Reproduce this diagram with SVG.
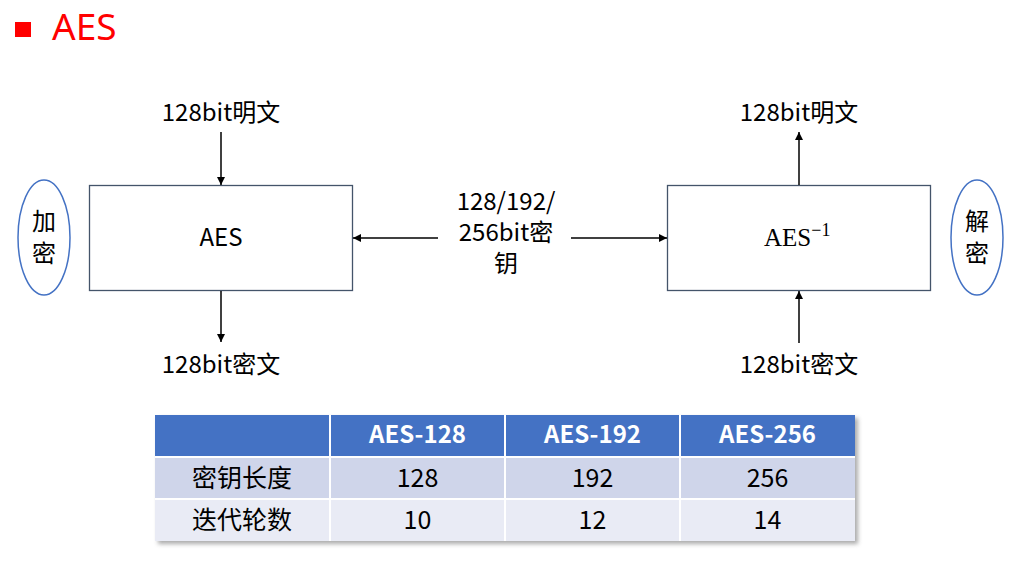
<svg xmlns="http://www.w3.org/2000/svg" width="1014" height="565" viewBox="0 0 1014 565">
<style>
.t{font-family:"Noto Sans CJK SC","Microsoft YaHei",sans-serif;font-size:24px;fill:#000;text-anchor:middle}
.tb{font-family:"Noto Sans CJK SC","Microsoft YaHei",sans-serif;font-size:25px;fill:#000;text-anchor:middle}
.box{fill:#fff;stroke:#44546A;stroke-width:1.3}
.ell{fill:#fff;stroke:#4472C4;stroke-width:1.5}
.ln{stroke:#000;stroke-width:1.5;fill:none}
.hd{font-family:"Noto Sans CJK SC","Microsoft YaHei",sans-serif;font-size:24px;font-weight:bold;fill:#fff;text-anchor:middle}
</style>
<defs>
<marker id="ah" viewBox="0 0 10 10" refX="10" refY="5" markerWidth="8" markerHeight="8" markerUnits="userSpaceOnUse" orient="auto">
<path d="M0,0 L10,5 L0,10 z" fill="#000"/>
</marker>
<filter id="sh" x="-5%" y="-20%" width="110%" height="140%">
<feGaussianBlur stdDeviation="2"/>
</filter>
</defs>
<rect width="1014" height="565" fill="#fff"/>
<g id="title">
<rect x="15" y="22" width="16" height="15" fill="#FF0000"/>
<text x="52" y="40" style="font-family:'Noto Sans',sans-serif;font-size:37px;fill:#FF0000">AES</text>
</g>
<g id="enc-label">
<ellipse class="ell" cx="44" cy="237.5" rx="26" ry="57.5"/>
<text class="t" x="44" y="230">加</text>
<text class="t" x="44" y="262">密</text>
</g>
<g id="dec-label">
<ellipse class="ell" cx="977" cy="237.5" rx="26" ry="57.5"/>
<text class="t" x="977" y="230">解</text>
<text class="t" x="977" y="262">密</text>
</g>
<g id="aes">
<rect class="box" x="89.5" y="185.5" width="263" height="105"/>
<text class="t" x="221" y="246">AES</text>
</g>
<g id="aes-inv">
<rect class="box" x="667.5" y="185.5" width="263" height="105"/>
<text x="764" y="246" style="font-family:'Liberation Serif',serif;font-size:25px;fill:#000">AES<tspan dy="-10" font-size="18">−1</tspan></text>
</g>
<g id="enc-in"><text class="t" x="221" y="121">128bit明文</text></g>
<g id="enc-out"><text class="t" x="221" y="373">128bit密文</text></g>
<g id="dec-out"><text class="t" x="799" y="121">128bit明文</text></g>
<g id="dec-in"><text class="t" x="799" y="373">128bit密文</text></g>
<g id="key">
<text class="t"><tspan x="506" y="210">128/192/</tspan><tspan x="506" y="241">256bit密</tspan><tspan x="506" y="272">钥</tspan></text>
</g>
<g id="connectors">
<line class="ln" x1="221" y1="132" x2="221" y2="185" marker-end="url(#ah)"/>
<line class="ln" x1="221" y1="291" x2="221" y2="342" marker-end="url(#ah)"/>
<line class="ln" x1="799" y1="185" x2="799" y2="132" marker-end="url(#ah)"/>
<line class="ln" x1="799" y1="343" x2="799" y2="291" marker-end="url(#ah)"/>
<line class="ln" x1="438" y1="238" x2="353" y2="238" marker-end="url(#ah)"/>
<line class="ln" x1="571" y1="238" x2="667" y2="238" marker-end="url(#ah)"/>
</g>
<g id="table">
<rect x="158" y="418" width="700" height="126" fill="#888" opacity="0.7" filter="url(#sh)"/>
<rect x="155" y="415" width="700" height="126" fill="#fff"/>
<rect x="155" y="415" width="174" height="41" fill="#4472C4"/>
<rect x="331" y="415" width="173" height="41" fill="#4472C4"/>
<rect x="506" y="415" width="173" height="41" fill="#4472C4"/>
<rect x="681" y="415" width="174" height="41" fill="#4472C4"/>
<rect x="155" y="458" width="174" height="40" fill="#CFD5EA"/>
<rect x="331" y="458" width="173" height="40" fill="#CFD5EA"/>
<rect x="506" y="458" width="173" height="40" fill="#CFD5EA"/>
<rect x="681" y="458" width="174" height="40" fill="#CFD5EA"/>
<rect x="155" y="500" width="174" height="41" fill="#E9EBF5"/>
<rect x="331" y="500" width="173" height="41" fill="#E9EBF5"/>
<rect x="506" y="500" width="173" height="41" fill="#E9EBF5"/>
<rect x="681" y="500" width="174" height="41" fill="#E9EBF5"/>
<text class="hd" x="417.5" y="443">AES-128</text>
<text class="hd" x="592.5" y="443">AES-192</text>
<text class="hd" x="767.5" y="443">AES-256</text>
<text class="tb" x="242" y="487">密钥长度</text>
<text class="tb" x="417.5" y="487">128</text>
<text class="tb" x="592.5" y="487">192</text>
<text class="tb" x="767.5" y="487">256</text>
<text class="tb" x="242" y="529">迭代轮数</text>
<text class="tb" x="417.5" y="529">10</text>
<text class="tb" x="592.5" y="529">12</text>
<text class="tb" x="767.5" y="529">14</text>
</g>
</svg>
